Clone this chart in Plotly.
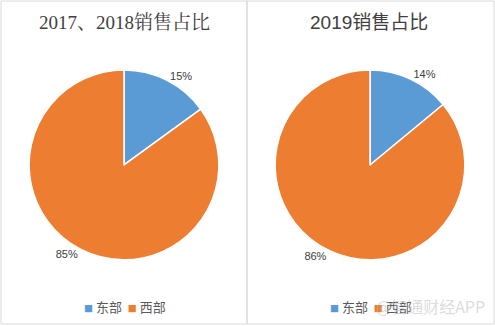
import plotly.graph_objects as go

labels = ["东部", "西部"]
values_1718 = [15, 85]
values_2019 = [14, 86]
titles = ["2017、2018销售占比", "2019销售占比"]
colors = ["#5B9BD5", "#ED7D31"]

W, H = 495, 326
fig = go.Figure()

common = dict(
    labels=labels, sort=False, direction="clockwise", rotation=0,
    marker=dict(colors=colors, line=dict(color="white", width=1.5)),
    textposition="outside", texttemplate="%{percent:.0%}",
    textfont=dict(family="Liberation Sans, Noto Sans CJK SC", size=11, color="#404040"),
    hoverinfo="label+percent", showlegend=False,
)

fig.add_trace(go.Pie(values=values_1718, domain=dict(x=[0.0505, 0.4505], y=[0.203, 0.785]), **common))
fig.add_trace(go.Pie(values=values_2019, domain=dict(x=[0.5475, 0.9475], y=[0.203, 0.785]), **common))


def legend_text():
    parts = []
    for lab, col in zip(labels, colors):
        parts.append(f"<span style='color:{col};font-size:9px'>■</span> {lab}")
    return "  ".join(parts)


ann_common = dict(xref="paper", yref="paper", showarrow=False, xanchor="center", yanchor="middle")
fig.update_layout(
    width=W, height=H, margin=dict(l=0, r=0, t=0, b=0),
    paper_bgcolor="white", plot_bgcolor="white",
    shapes=[
        dict(type="rect", xref="paper", yref="paper", x0=1/W, x1=247/W, y0=2/H, y1=1 - 1/H,
             line=dict(color="#D9D9D9", width=1)),
        dict(type="rect", xref="paper", yref="paper", x0=247/W, x1=494/W, y0=2/H, y1=1 - 1/H,
             line=dict(color="#D9D9D9", width=1)),
    ],
    annotations=[
        dict(text=titles[0], x=124/W, y=1 - 22/H,
             font=dict(family="Liberation Serif, Noto Serif CJK SC, Noto Sans CJK SC", size=19, color="#404040"),
             **ann_common),
        dict(text=titles[1], x=369/W, y=1 - 22/H,
             font=dict(family="Liberation Sans, Noto Sans CJK SC", size=19, color="#404040"),
             **ann_common),
        dict(text=legend_text(), x=125/W, y=1 - 306/H,
             font=dict(family="Noto Sans CJK SC", size=13, color="#595959"), **ann_common),
        dict(text=legend_text(), x=371/W, y=1 - 306/H,
             font=dict(family="Noto Sans CJK SC", size=13, color="#595959"), **ann_common),
        dict(text="@智通财经APP", x=430/W, y=1 - 306/H,
             font=dict(family="Noto Sans CJK SC", size=16, color="rgba(190,190,190,0.55)"),
             **ann_common),
    ],
)

fig.write_html("out.html")
